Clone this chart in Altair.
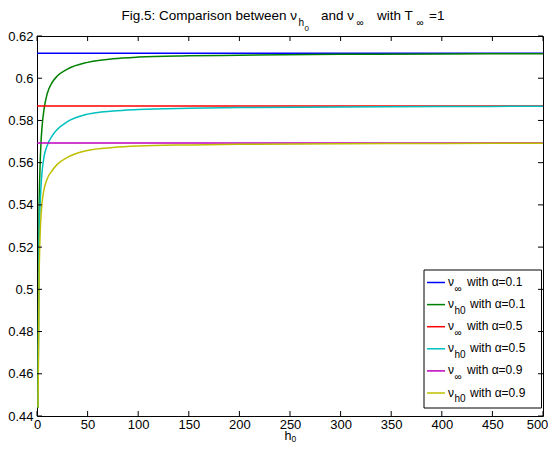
import altair as alt
import pandas as pd

# ---- data ----
h0 = [1, 2, 3, 4, 5, 7, 10, 15, 20, 30, 50, 75, 100, 150, 200, 300, 400, 500]
v_h0_a01 = [0.444, 0.535, 0.558, 0.570, 0.577, 0.5855, 0.5925, 0.598, 0.6010, 0.6043,
            0.6075, 0.6092, 0.6100, 0.6106, 0.6109, 0.6113, 0.6115, 0.6116]
v_h0_a05 = [0.444, 0.518, 0.539, 0.549, 0.5555, 0.5630, 0.568, 0.5727, 0.5757, 0.5794,
            0.5830, 0.5845, 0.5852, 0.5858, 0.5861, 0.5864, 0.5866, 0.5867]
v_h0_a09 = [0.444, 0.503, 0.525, 0.535, 0.541, 0.5475, 0.5523, 0.5563, 0.5592, 0.5625,
            0.5658, 0.5672, 0.5679, 0.5684, 0.5687, 0.5690, 0.5691, 0.5692]
v_inf = {"0.1": 0.6118, "0.5": 0.5868, "0.9": 0.5693}
alphas = ["0.1", "0.5", "0.9"]
x_ticks = [0, 50, 100, 150, 200, 250, 300, 350, 400, 450, 500]
y_ticks = [0.44, 0.46, 0.48, 0.50, 0.52, 0.54, 0.56, 0.58, 0.60, 0.62]

COL_INF = {"0.1": "#0000ff", "0.5": "#ff0000", "0.9": "#bf00bf"}
COL_H0 = {"0.1": "#008000", "0.5": "#00bfbf", "0.9": "#bfbf00"}

W, H = 506, 380
FONT = "Liberation Sans"
X0, Y0 = 37, 36  # page position of plot origin

xs = alt.Scale(domain=[0, 500], nice=False, zero=False)
ys = alt.Scale(domain=[0.44, 0.62], nice=False, zero=False)

AX_X = alt.Axis(values=x_ticks, title=None, ticks=False, domain=False, grid=False,
                labelPadding=2, labelFont=FONT, labelFontSize=13, labelColor="#000",
                labelFlush=False, labelOverlap=False, format="d",
                labelOffset={"condition": {"test": "datum.value >= 500", "value": -6},
                             "value": 0})
AX_Y = alt.Axis(values=y_ticks, title=None, ticks=False, domain=False, grid=False,
                labelPadding=4, labelFont=FONT, labelFontSize=13, labelColor="#000",
                labelOverlap=False, format="~g")

one = pd.DataFrame({"a": [0]})


def px(page_x):
    return page_x - X0


def py(page_y):
    return page_y - Y0


layers = []
curves = {"0.1": v_h0_a01, "0.5": v_h0_a05, "0.9": v_h0_a09}
for a in alphas:
    rule_df = pd.DataFrame({"v": [v_inf[a]]})
    layers.append(alt.Chart(rule_df).mark_rule(color=COL_INF[a], strokeWidth=1.5).encode(
        y=alt.Y("v:Q", scale=ys, axis=AX_Y)))
    cdf = pd.DataFrame({"h0": h0, "v": curves[a]})
    layers.append(alt.Chart(cdf).mark_line(color=COL_H0[a], strokeWidth=1.5,
                                           interpolate="monotone").encode(
        x=alt.X("h0:Q", scale=xs, axis=AX_X),
        y=alt.Y("v:Q", scale=ys, axis=AX_Y)))

# legend box
layers.append(alt.Chart(one).mark_rect(fill="white", stroke="black", strokeWidth=1).encode(
    x=alt.value(px(424)), x2=alt.value(px(541.5)),
    y=alt.value(py(270)), y2=alt.value(py(408))))

legend_entries = [
    ("0.1", "inf"), ("0.1", "h0"), ("0.5", "inf"), ("0.5", "h0"), ("0.9", "inf"), ("0.9", "h0")
]
for i, (a, kind) in enumerate(legend_entries):
    row = 282.5 + 22.1 * i
    col = COL_INF[a] if kind == "inf" else COL_H0[a]
    layers.append(alt.Chart(one).mark_rule(color=col, strokeWidth=1.5).encode(
        x=alt.value(px(427)), x2=alt.value(px(445)),
        y=alt.value(py(row)), y2=alt.value(py(row))))
    layers.append(alt.Chart(one).mark_text(font=FONT, fontSize=12, align="left",
                                           baseline="alphabetic", color="black").encode(
        x=alt.value(px(448)), y=alt.value(py(row + 3.5)), text=alt.value("ν")))
    sub = "∞" if kind == "inf" else "h0"
    layers.append(alt.Chart(one).mark_text(font=FONT, fontSize=10, align="left",
                                           baseline="alphabetic", color="black").encode(
        x=alt.value(px(454.5)), y=alt.value(py(row + 9)), text=alt.value(sub)))
    tx = 467 if kind == "inf" else 470
    layers.append(alt.Chart(one).mark_text(font=FONT, fontSize=12, align="left",
                                           baseline="alphabetic", color="black").encode(
        x=alt.value(px(tx)), y=alt.value(py(row + 3.5)),
        text=alt.value("with α=" + a)))

# inward ticks on all four sides
xt = pd.DataFrame({"t": x_ticks})
yt = pd.DataFrame({"t": y_ticks})
TL = 5
layers.append(alt.Chart(xt).mark_rule(color="black", strokeWidth=1).encode(
    x=alt.X("t:Q", scale=xs, axis=AX_X), y=alt.value(H), y2=alt.value(H - TL)))
layers.append(alt.Chart(xt).mark_rule(color="black", strokeWidth=1).encode(
    x=alt.X("t:Q", scale=xs, axis=AX_X), y=alt.value(0), y2=alt.value(TL)))
layers.append(alt.Chart(yt).mark_rule(color="black", strokeWidth=1).encode(
    y=alt.Y("t:Q", scale=ys, axis=AX_Y), x=alt.value(0), x2=alt.value(TL)))
layers.append(alt.Chart(yt).mark_rule(color="black", strokeWidth=1).encode(
    y=alt.Y("t:Q", scale=ys, axis=AX_Y), x=alt.value(W), x2=alt.value(W - TL)))


# title pieces
def txt(s, page_x, page_y, size, align="left"):
    return alt.Chart(one).mark_text(font=FONT, fontSize=size, align=align,
                                    baseline="alphabetic", color="black").encode(
        x=alt.value(px(page_x)), y=alt.value(py(page_y)), text=alt.value(s))


TB = 20
layers += [
    txt("Fig.5: Comparison between ν", 297, TB, 13.5, "right"),
    txt("h", 298.5, TB + 5.5, 10),
    txt("0", 304.5, TB + 10.5, 8),
    txt("and ν", 321, TB, 13.5),
    txt("∞", 356.5, TB + 5.5, 10),
    txt("with T", 377, TB, 13.5),
    txt("∞", 416.5, TB + 5.5, 10),
    txt("=1", 429, TB, 13.5),
    # x-axis title
    txt("h", 284.5, 439.5, 12.5),
    txt("0", 291.5, 442, 8.5),
]

chart = alt.layer(*layers).properties(
    width=W, height=H,
    autosize=alt.AutoSizeParams(type="none"),
    padding={"left": 29, "top": 28, "right": 5, "bottom": 28},
    background="white",
).configure_view(stroke="black", strokeWidth=1)

chart.save("out.html", embed_options={"renderer": "svg", "actions": False})
